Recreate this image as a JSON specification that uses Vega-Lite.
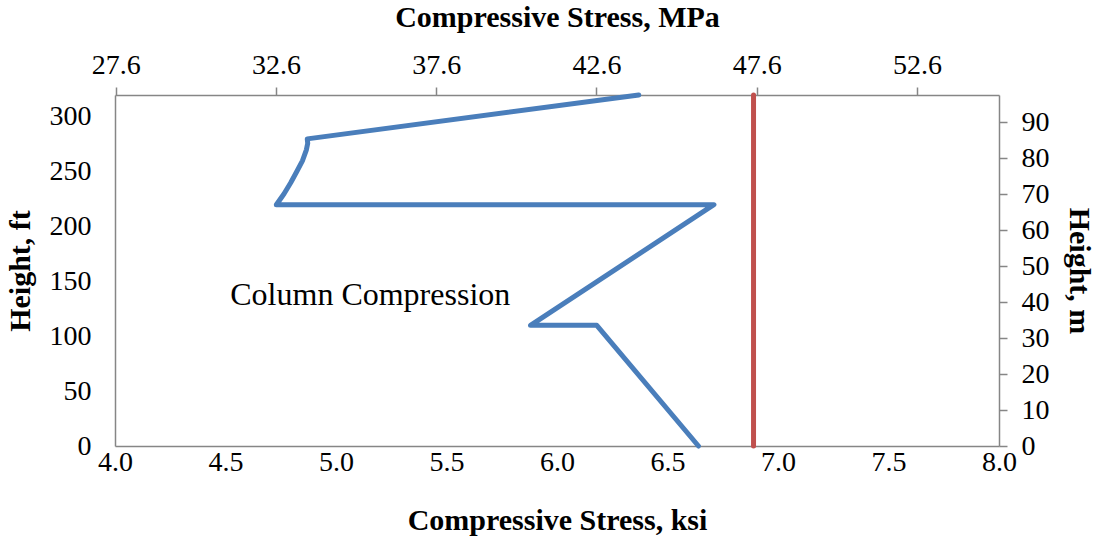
{
  "$schema": "https://vega.github.io/schema/vega-lite/v6.json",
  "width": 884,
  "height": 351,
  "autosize": {"type": "none"},
  "padding": {"left": 115, "top": 95, "right": 100, "bottom": 93},
  "background": "white",
  "config": {
    "view": {"stroke": null},
    "font": "Liberation Serif",
    "axis": {
      "grid": false,
      "domainColor": "#868686",
      "domainWidth": 1.5,
      "tickColor": "#868686",
      "tickWidth": 1.5,
      "labelFont": "Liberation Serif",
      "labelFontSize": 28,
      "labelColor": "black",
      "titleFont": "Liberation Serif",
      "titleFontSize": 30,
      "titleFontWeight": "bold",
      "titleColor": "black",
      "labelFlush": false,
      "labelOverlap": false
    }
  },
  "layer": [
    {
      "layer": [
        {
          "data": {
            "values": [
              {"i": 1, "ksi": 6.64, "ft": 0},
              {"i": 2, "ksi": 6.18, "ft": 110},
              {"i": 3, "ksi": 5.88, "ft": 110},
              {"i": 4, "ksi": 6.71, "ft": 220},
              {"i": 5, "ksi": 4.73, "ft": 220},
              {"i": 6, "ksi": 4.765, "ft": 230},
              {"i": 7, "ksi": 4.795, "ft": 240},
              {"i": 8, "ksi": 4.822, "ft": 250},
              {"i": 9, "ksi": 4.848, "ft": 260},
              {"i": 10, "ksi": 4.866, "ft": 270},
              {"i": 11, "ksi": 4.872, "ft": 276},
              {"i": 12, "ksi": 4.87, "ft": 280},
              {"i": 13, "ksi": 6.37, "ft": 320}
            ]
          },
          "mark": {"type": "line", "color": "#4A7EBB", "strokeWidth": 5, "strokeJoin": "round", "strokeCap": "round", "interpolate": "linear", "clip": false},
          "encoding": {
            "x": {
              "field": "ksi", "type": "quantitative",
              "scale": {"domain": [4, 8], "nice": false, "zero": false},
              "axis": {
                "orient": "bottom", "values": [4, 4.5, 5, 5.5, 6, 6.5, 7, 7.5, 8], "format": ".1f",
                "ticks": false, "tickSize": 0, "labelPadding": 2,
                "title": "Compressive Stress, ksi", "titlePadding": 29
              }
            },
            "y": {
              "field": "ft", "type": "quantitative",
              "scale": {"domain": [0, 320], "nice": false, "zero": true},
              "axis": {
                "orient": "left", "values": [0, 50, 100, 150, 200, 250, 300],
                "ticks": false, "tickSize": 0, "labelPadding": 24,
                "title": "Height, ft", "titlePadding": 14
              }
            },
            "order": {"field": "i", "type": "quantitative"}
          }
        },
        {
          "data": {"values": [{"ksi": 5.155, "ft": 138, "label": "Column Compression"}]},
          "mark": {"type": "text", "fontSize": 32, "font": "Liberation Serif", "color": "black", "align": "center", "baseline": "middle"},
          "encoding": {
            "x": {"field": "ksi", "type": "quantitative"},
            "y": {"field": "ft", "type": "quantitative"},
            "text": {"field": "label"}
          }
        }
      ]
    },
    {
      "data": {"values": [{"MPa": 47.5, "m0": 0, "m1": 97.536}]},
      "mark": {"type": "rule", "color": "#C0504D", "strokeWidth": 5, "strokeCap": "round"},
      "encoding": {
        "x": {
          "field": "MPa", "type": "quantitative",
          "scale": {"domain": [27.579, 55.158], "nice": false, "zero": false},
          "axis": {
            "orient": "top", "values": [27.6, 32.6, 37.6, 42.6, 47.6, 52.6], "format": ".1f",
            "tickSize": 8, "labelPadding": 8,
            "title": "Compressive Stress, MPa", "titlePadding": 19
          }
        },
        "y": {
          "field": "m0", "type": "quantitative",
          "scale": {"domain": [0, 97.536], "nice": false, "zero": true},
          "axis": {
            "orient": "right", "values": [0, 10, 20, 30, 40, 50, 60, 70, 80, 90],
            "tickSize": 8, "labelPadding": 14,
            "title": "Height, m", "titlePadding": 14
          }
        },
        "y2": {"field": "m1"}
      }
    }
  ],
  "resolve": {"scale": {"x": "independent", "y": "independent"}, "axis": {"x": "independent", "y": "independent"}}
}
